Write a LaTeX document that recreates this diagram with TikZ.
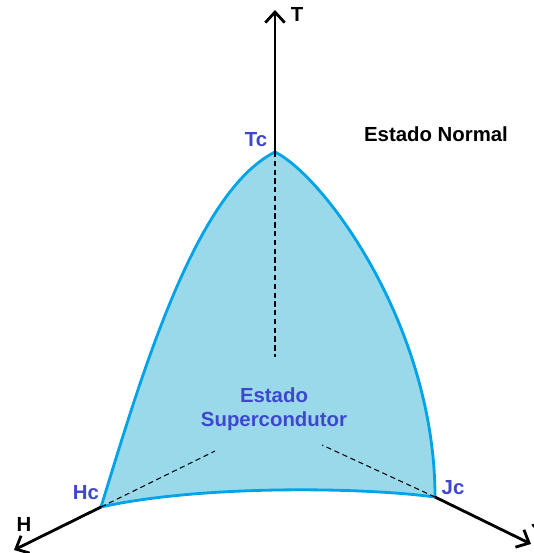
\documentclass[tikz,border=0pt]{standalone}
\usepackage{fontspec}
\setmainfont{Liberation Sans}
\usetikzlibrary{arrows.meta}
\definecolor{scfill}{RGB}{153,217,234}
\definecolor{scedge}{RGB}{0,162,232}
\definecolor{sctext}{RGB}{63,72,204}

\begin{document}
\begin{tikzpicture}[x=0.02cm,y=-0.02cm,
    axis/.style={line width=1.6pt,-{Straight Barb[length=6pt,width=11pt]}},
    hidden/.style={line width=0.6pt,densely dashed},
    lbl/.style={font=\fontsize{11.6}{13.4}\selectfont\bfseries,inner sep=0pt},
  ]
  \useasboundingbox (0,0) rectangle (533,553);
  % critical points and axis ends
  \coordinate (Tc) at (275,152);
  \coordinate (Hc) at (101,507);
  \coordinate (Jc) at (435,497);
  \coordinate (To) at (275,357);
  \coordinate (Ho) at (215,451);
  \coordinate (Jo) at (322,445);
  \coordinate (Ttip) at (275,10);
  \coordinate (Htip) at (14,550);
  \coordinate (Jtip) at (531,544);
  % superconducting region
  \filldraw[fill=scfill,draw=scedge,line width=1.6pt]
    (Hc) .. controls (141,377) and (195,192) .. (Tc)
    .. controls (325,177) and (435,327) .. (Jc)
    .. controls (360,487) and (200,485) .. cycle;
  \draw[hidden] (Tc) -- (To);
  \draw[hidden] (Hc) -- (Ho);
  \draw[hidden] (Jc) -- (Jo);
  \draw[axis] (Tc) -- (Ttip);
  \draw[axis] (Hc) -- (Htip);
  \draw[axis] (Jc) -- (Jtip);
  % labels
  \node[lbl] (tlbl) at (297,14) {T};
  \node[lbl] (hlbl) at (24,524) {H};
  \node[lbl] (jlbl) at (537,522) {J};
  \node[lbl,text=sctext] (tclbl) at (256,140) {Tc};
  \node[lbl,text=sctext] (hclbl) at (86,493) {Hc};
  \node[lbl,text=sctext] (jclbl) at (453,488) {Jc};
  \node[lbl] (normal) at (436,134) {Estado Normal};
  \node[lbl,text=sctext,align=center] (super) at (274,409) {Estado\\Supercondutor};
\end{tikzpicture}
\end{document}
